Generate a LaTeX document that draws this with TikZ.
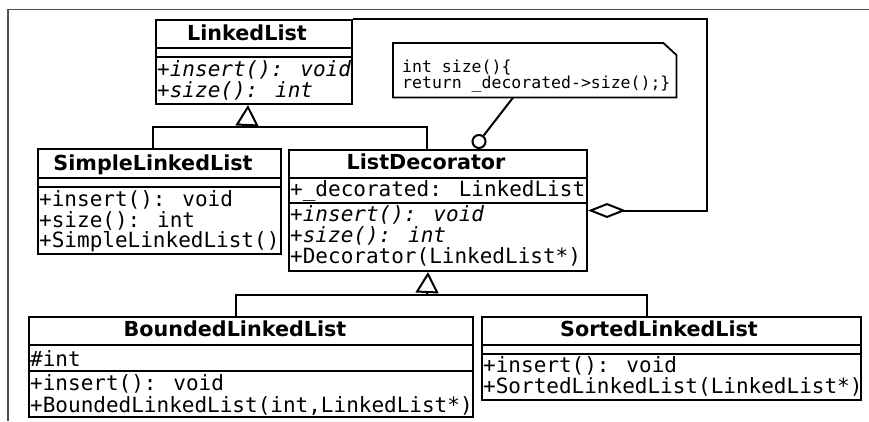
\documentclass[tikz,border=0pt]{standalone}
\usepackage{fontspec}
\setmainfont{DejaVu Sans}
\newfontfamily\monof{DejaVu Sans Mono}
\usetikzlibrary{arrows.meta}
\definecolor{framegray}{RGB}{80,80,80}

\tikzset{
  cls/.style={draw, line width=2pt, inner sep=0pt, anchor=north west},
  sep/.style={line width=2pt},
  edge/.style={line width=2pt},
  title/.style={anchor=base, inner sep=0pt, font=\fontsize{20.7}{23}\selectfont\bfseries},
  member/.style={anchor=base west, inner sep=0pt, font=\fontsize{21}{23}\selectfont\monof},
  abstract/.style={member, font=\fontsize{21}{23}\selectfont\monof\itshape},
  notetext/.style={anchor=base west, inner sep=0pt, font=\fontsize{16.5}{16}\selectfont\monof},
  inherit/.style={edge, -{Triangle[open, length=21pt, width=23pt, line width=2pt]}},
  aggregate/.style={edge, {Diamond[open, length=38pt, width=15pt, line width=2pt]}-},
}

\begin{document}
\begin{tikzpicture}[x=1pt, y=-1pt]
\useasboundingbox (0,0) rectangle (869,421);

% window frame
\draw[line width=1.8pt, framegray] (8.3,421) -- (8.3,9.5) -- (869,9.5);

% ---- LinkedList (interface) ----
\node[cls, minimum width=196pt, minimum height=84pt] (ll) at (155,19) {};
\draw[sep] (155,48) -- (351,48);
\draw[sep] (155,57) -- (351,57);
\node[title] (llT) at (247,40) {LinkedList};
\node[abstract] (llM1) at (157,76) {+insert(): void};
\node[abstract] (llM2) at (157,97) {+size(): int};

% ---- SimpleLinkedList ----
\node[cls, minimum width=243pt, minimum height=105pt] (sll) at (37,148) {};
\draw[sep] (37,178) -- (280,178);
\draw[sep] (37,187) -- (280,187);
\node[title] (sllT) at (153,170) {SimpleLinkedList};
\node[member] (sllM1) at (39,206) {+insert(): void};
\node[member] (sllM2) at (39,227) {+size(): int};
\node[member] (sllM3) at (39,247) {+SimpleLinkedList()};

% ---- ListDecorator ----
\node[cls, minimum width=298pt, minimum height=121pt] (ld) at (288,149) {};
\draw[sep] (288,178) -- (586,178);
\draw[sep] (288,203) -- (586,203);
\node[title] (ldT) at (426,169) {ListDecorator};
\node[member] (ldA1) at (290,196) {+\_decorated: LinkedList};
\node[abstract] (ldM1) at (290,221) {+insert(): void};
\node[abstract] (ldM2) at (290,242) {+size(): int};
\node[member] (ldM3) at (290,263) {+Decorator(LinkedList*)};

% ---- BoundedLinkedList ----
\node[cls, minimum width=444pt, minimum height=100pt] (bll) at (28,316) {};
\draw[sep] (28,345) -- (472,345);
\draw[sep] (28,371) -- (472,371);
\node[title] (bllT) at (235,336) {BoundedLinkedList};
\node[member] (bllA1) at (30,366) {\#int};
\node[member] (bllM1) at (30,390) {+insert(): void};
\node[member] (bllM2) at (30,412) {+BoundedLinkedList(int,LinkedList*)};

% ---- SortedLinkedList ----
\node[cls, minimum width=379pt, minimum height=83pt] (sol) at (481,316) {};
\draw[sep] (481,345) -- (860,345);
\draw[sep] (481,354) -- (860,354);
\node[title] (solT) at (659,336) {SortedLinkedList};
\node[member] (solM1) at (483,372) {+insert(): void};
\node[member] (solM2) at (483,393) {+SortedLinkedList(LinkedList*)};

% ---- note attached to ListDecorator ----
\node[anchor=north west, inner sep=0pt, minimum width=283pt, minimum height=54pt] (note) at (393,43) {};
\draw[line width=1.8pt] (note.north west) -- ([xshift=-13pt]note.north east)
  -- ([yshift=-12pt]note.north east) -- (note.south east) -- (note.south west) -- cycle;
\node[notetext] (noteL1) at (402,72) {int size()\{};
\node[notetext] (noteL2) at (402,88) {return \_decorated->size();\}};
\node[circle, draw, line width=2pt, minimum size=13pt, inner sep=0pt] (lolli) at (479,141.5) {};
\draw[edge] ([xshift=-21.5pt]note.south) -- (lolli);

% ---- generalisation: SimpleLinkedList, ListDecorator -> LinkedList ----
\coordinate (gen1) at (247,127);
\draw[edge] ([xshift=-6.5pt]sll.north) |- (gen1) -| ([xshift=-11pt]ld.north);
\draw[inherit] (gen1) -- ([xshift=-6pt]ll.south);

% ---- generalisation: BoundedLinkedList, SortedLinkedList -> ListDecorator ----
\coordinate (gen2) at (427,295);
\draw[edge] ([xshift=-15pt]bll.north) |- (gen2) -| ([xshift=-24.5pt]sol.north);
\draw[inherit] (gen2) -- ([xshift=-10pt]ld.south);

% ---- aggregation: ListDecorator holds a LinkedList ----
\coordinate (aggc) at (707,19);
\draw[aggregate] (ld.east) -| (aggc) -- (ll.north east);

\end{tikzpicture}
\end{document}
